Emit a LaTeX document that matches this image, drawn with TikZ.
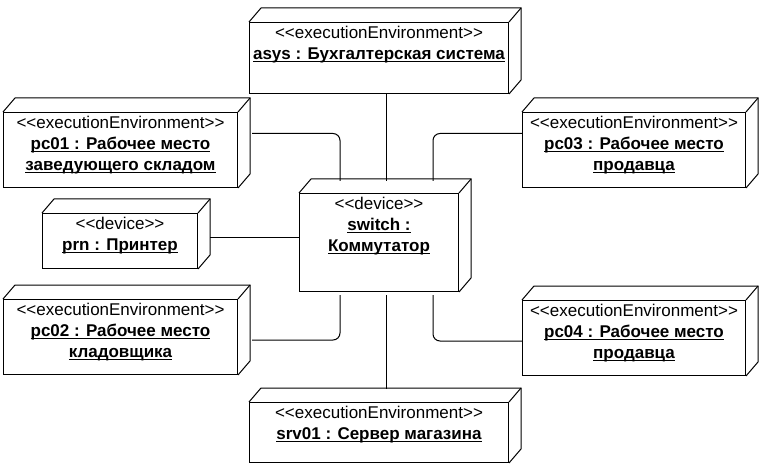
\documentclass[tikz,border=0pt]{standalone}
\usepackage{fontspec}
\setmainfont{Liberation Sans}
\usetikzlibrary{calc}
\newcommand\myul[1]{\setbox0\hbox{\bfseries #1}\rlap{\rule[-3pt]{\wd0}{0.9pt}}\box0}
\newcommand\stereo[1]{<\kern0pt<#1>\kern0pt>}
\newcommand\depbox[6]{%
  \node[box, minimum width=#4pt, minimum height=#5pt] (#1) at (#2,#3) {};
  \draw (#1.north west) -- ++(12,-14) -| ($(#1.south east)+(12,-14)$) -- (#1.south east);
  \draw (#1.north east) -- ++(12,-14);
  \node[lbl] (#1-t) at ([yshift=-3.5pt]#1.north) {#6};
}
\begin{document}
\begin{tikzpicture}[x=1pt,y=-1pt,line width=1pt,
  box/.style={draw, fill=white, rectangle, inner sep=0pt, anchor=north west},
  lbl/.style={anchor=north, inner sep=0pt, align=center, font=\fontsize{17}{21}\selectfont},
  conn/.style={draw, rounded corners=7pt}]
\useasboundingbox (0,0) rectangle (765,470);

\depbox{asys}{249}{22}{259}{71}{\stereo{executionEnvironment}\\\myul{asys : Бухгалтерская система}}
\depbox{pc01}{3}{112}{234}{75}{\stereo{executionEnvironment}\\\myul{pc01 : Рабочее место}\\\myul{заведующего складом}}
\depbox{pc03}{522}{112}{223}{75}{\stereo{executionEnvironment}\\\myul{pc03 : Рабочее место}\\\myul{продавца}}
\depbox{prn}{42}{213}{155}{55}{\stereo{device}\\\myul{prn : Принтер}}
\depbox{sw}{299}{193}{159}{98}{\stereo{device}\\\myul{switch :}\\\myul{Коммутатор}}
\depbox{pc02}{3}{299}{234}{75}{\stereo{executionEnvironment}\\\myul{pc02 : Рабочее место}\\\myul{кладовщика}}
\depbox{pc04}{522}{300}{223}{75}{\stereo{executionEnvironment}\\\myul{pc04 : Рабочее место}\\\myul{продавца}}
\depbox{srv}{249}{402}{259}{60}{\stereo{executionEnvironment}\\\myul{srv01 : Сервер магазина}}

\coordinate (swt1) at ($(sw.north west)+(41,-12)$);
\coordinate (swt2) at ($(sw.north west)+(87,-12)$);
\coordinate (swt3) at ($(sw.north west)+(134,-12)$);
\coordinate (swb1) at ($(sw.south west)+(41,3)$);
\coordinate (swb2) at ($(sw.south west)+(87,3)$);
\coordinate (swb3) at ($(sw.south west)+(134,3)$);
\coordinate (prnr) at ($(prn.east)+(12,-3.5)$);
\coordinate (srvt) at ($(swb2 |- srv.north)+(0,-13)$);

\draw[conn] (swt2 |- asys.south) -- (swt2);
\draw[conn] ($(pc01.east)+(14,-16.5)$) -| (swt1);
\draw[conn] ($(pc03.west)+(0,-16.5)$) -| (swt3);
\draw[conn] (prnr) -- (prnr -| sw.west);
\draw[conn] (swb1) |- ($(pc02.east)+(14,3)$);
\draw[conn] (swb3) |- ($(pc04.west)+(0,3)$);
\draw[conn] (swb2) -- (srvt);
\end{tikzpicture}
\end{document}
